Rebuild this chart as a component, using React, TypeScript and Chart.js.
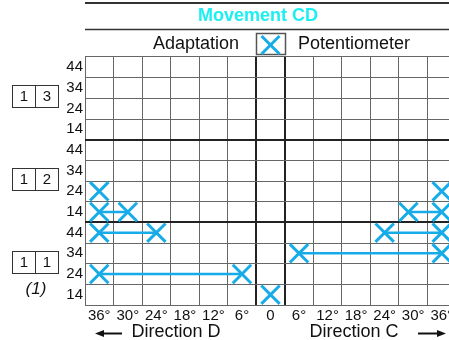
import React, { useEffect, useRef } from 'react';
import { Chart, registerables } from 'chart.js';

Chart.register(...registerables);

const FONT = "'Liberation Sans', Arial, Helvetica, sans-serif";
const MARK = '#17ACE8';
const TITLE_COLOR = '#1CEFF2';

// X axis: degrees, Direction D on the left (negative), Direction C on the right (positive)
const xDegrees = [-36, -30, -24, -18, -12, -6, 0, 6, 12, 18, 24, 30, 36];
const xLabels = ['36°', '30°', '24°', '18°', '12°', '6°', '0', '6°', '12°', '18°', '24°', '30°', '36°'];

// Y axis: three groups (bottom to top), each with four levels (bottom to top)
const groups = [11, 12, 13];
const groupBoxes = [['1', '1'], ['1', '2'], ['1', '3']];
const yLevels = [14, 24, 34, 44];

// Potentiometer traces (single marks or connected pairs)
const traceGroup = [12, 12, 12, 12, 11, 11, 11, 11, 11];
const traceLevel = [24, 24, 14, 14, 44, 44, 34, 24, 14];
const traceFrom = [-36, 36, -36, 29, -36, 24, 6, -36, 0];
const traceTo: (number | null)[] = [null, null, -30, 36, -24, 36, 36, -6, null];

const rowValue = (g: number, lvl: number) => groups.indexOf(g) * 4 + yLevels.indexOf(lvl) + 0.5;

const decorPlugin = {
  id: 'decor',
  afterDraw(chart: any) {
    const ctx = chart.ctx as CanvasRenderingContext2D;
    const area = chart.chartArea;
    const xs = chart.scales.x;
    const ys = chart.scales.y;
    const W = chart.width;
    ctx.save();

    const line = (x1: number, y1: number, x2: number, y2: number) => {
      ctx.beginPath();
      ctx.moveTo(x1, y1);
      ctx.lineTo(x2, y2);
      ctx.stroke();
    };

    // header rules
    ctx.strokeStyle = '#333';
    ctx.lineWidth = 2;
    line(area.left, 3, W, 3);
    ctx.lineWidth = 1.5;
    line(area.left, 29.5, W, 29.5);

    // title
    ctx.fillStyle = TITLE_COLOR;
    ctx.font = `bold 18px ${FONT}`;
    ctx.textAlign = 'center';
    ctx.textBaseline = 'alphabetic';
    ctx.fillText('Movement CD', 258, 21);

    // legend
    const bx1 = xs.getPixelForValue(-3);
    const bx2 = xs.getPixelForValue(3);
    ctx.strokeStyle = '#555';
    ctx.lineWidth = 1.5;
    ctx.strokeRect(Math.round(bx1) + 0.5, 33.5, Math.round(bx2 - bx1), 21);
    const cx = (bx1 + bx2) / 2;
    const cy = 45;
    ctx.strokeStyle = MARK;
    ctx.lineWidth = 3;
    line(cx - 9, cy - 9, cx + 9, cy + 9);
    line(cx - 9, cy + 9, cx + 9, cy - 9);

    ctx.fillStyle = '#111';
    ctx.font = `18px ${FONT}`;
    ctx.textAlign = 'right';
    ctx.fillText('Adaptation', 239, 48.5);
    ctx.textAlign = 'left';
    ctx.fillText('Potentiometer', 298, 48.5);

    // group boxes on the left
    ctx.strokeStyle = '#333';
    ctx.lineWidth = 1;
    ctx.font = `15px ${FONT}`;
    ctx.textAlign = 'center';
    ctx.textBaseline = 'middle';
    ctx.fillStyle = '#111';
    let lastBottom = 0;
    groups.forEach((g, gi) => {
      const center = ys.getPixelForValue(gi * 4 + 2) - 2;
      const top = Math.round(center - 11) + 0.5;
      ctx.strokeRect(12.5, top, 46, 22);
      line(35.5, top, 35.5, top + 22);
      ctx.fillText(groupBoxes[gi][0], 24, top + 11.5);
      ctx.fillText(groupBoxes[gi][1], 47, top + 11.5);
      if (gi === 0) lastBottom = top + 22;
    });
    ctx.font = `italic 17px ${FONT}`;
    ctx.fillText('(1)', 36, lastBottom + 16);

    // direction labels
    ctx.font = `18px ${FONT}`;
    ctx.textBaseline = 'alphabetic';
    ctx.fillText('Direction D', 176, 336.5);
    ctx.fillText('Direction C', 354, 336.5);

    // arrows
    ctx.strokeStyle = '#111';
    ctx.fillStyle = '#111';
    ctx.lineWidth = 2;
    const ay = 333.5;
    line(102, ay, 122, ay);
    ctx.beginPath();
    ctx.moveTo(95, ay);
    ctx.lineTo(104, ay - 3.5);
    ctx.lineTo(104, ay + 3.5);
    ctx.closePath();
    ctx.fill();
    line(418, ay, 439, ay);
    ctx.beginPath();
    ctx.moveTo(446, ay);
    ctx.lineTo(437, ay - 3.5);
    ctx.lineTo(437, ay + 3.5);
    ctx.closePath();
    ctx.fill();

    ctx.restore();
  },
};

export default function App() {
  const ref = useRef<HTMLCanvasElement | null>(null);

  useEffect(() => {
    const canvas = ref.current;
    if (!canvas) return;

    const datasets = traceGroup.map((g, i) => {
      const y = rowValue(g, traceLevel[i]);
      const pts = [{ x: traceFrom[i], y }];
      if (traceTo[i] !== null) pts.push({ x: traceTo[i] as number, y });
      return {
        label: 'Potentiometer',
        data: pts,
        showLine: true,
        borderColor: MARK,
        borderWidth: 2.5,
        pointStyle: 'crossRot' as const,
        pointRadius: 13,
        pointBorderWidth: 3,
        pointBorderColor: MARK,
        pointBackgroundColor: 'transparent',
        clip: false as const,
      };
    });

    const chart = new Chart(canvas, {
      type: 'scatter',
      data: { datasets },
      options: {
        animation: false,
        responsive: false,
        devicePixelRatio: 1,
        layout: { autoPadding: false, padding: { top: 57, right: 1, left: 0, bottom: 0 } },
        plugins: {
          legend: { display: false },
          tooltip: { enabled: false },
          title: { display: false },
        },
        scales: {
          x: {
            type: 'linear',
            min: -39,
            max: 39,
            afterBuildTicks: (s: any) => {
              s.ticks = xDegrees.map((v) => ({ value: v }));
            },
            afterFit: (s: any) => {
              s.height = 35;
            },
            ticks: {
              autoSkip: false,
              maxRotation: 0,
              minRotation: 0,
              padding: 2,
              color: '#111',
              font: { family: FONT, size: 15 },
              callback: (_v: any, i: number) => xLabels[i],
            },
            grid: {
              offset: true,
              drawTicks: false,
              color: (c: any) => (c.index === 6 || c.index === 7 ? '#222' : '#666'),
              lineWidth: (c: any) => (c.index === 6 || c.index === 7 ? 2 : 1),
            },
            border: { display: false },
          },
          y: {
            type: 'linear',
            min: 0,
            max: 12,
            afterBuildTicks: (s: any) => {
              s.ticks = Array.from({ length: 12 }, (_, i) => ({ value: i + 0.5 }));
            },
            afterFit: (s: any) => {
              s.width = 85;
            },
            ticks: {
              autoSkip: false,
              padding: 2,
              color: '#111',
              font: { family: FONT, size: 15 },
              callback: (_v: any, i: number) => String(yLevels[i % 4]),
            },
            grid: {
              offset: true,
              drawTicks: false,
              color: (c: any) => (c.index === 4 || c.index === 8 ? '#222' : '#666'),
              lineWidth: (c: any) => (c.index === 4 || c.index === 8 ? 2 : 1),
            },
            border: { display: false },
          },
        },
      } as any,
      plugins: [decorPlugin],
    });

    return () => chart.destroy();
  }, []);

  return (
    <div
      style={{
        position: 'fixed',
        left: 0,
        top: 0,
        width: 449,
        height: 340,
        overflow: 'hidden',
        background: '#fff',
      }}
    >
      <canvas ref={ref} width={457} height={340} style={{ display: 'block' }} />
    </div>
  );
}
